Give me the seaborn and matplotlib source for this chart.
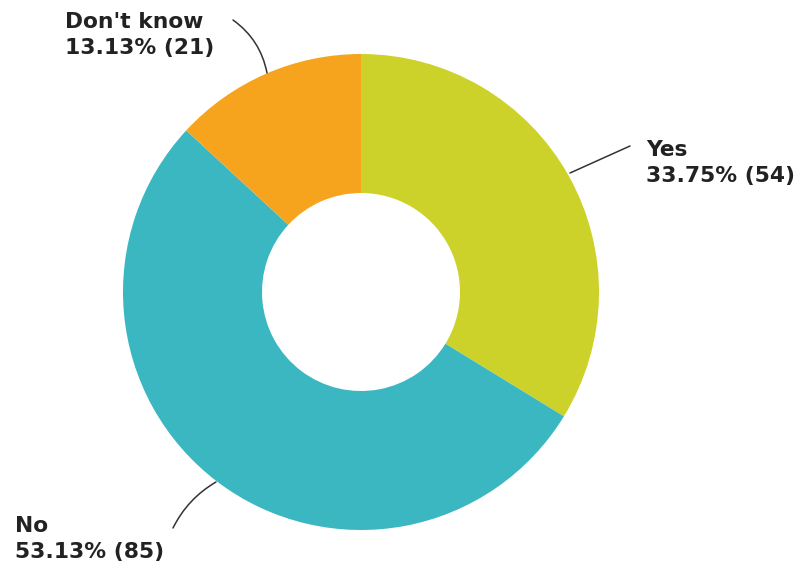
import matplotlib
matplotlib.use("Agg")
import matplotlib.pyplot as plt
import seaborn as sns

categories = ["Yes", "No", "Don't know"]
counts = [54, 85, 21]
percents = [33.75, 53.13, 13.13]
colors = ["#cdd22a", "#3bb7c2", "#f6a41d"]

sns.set_style("white")
plt.rcParams['font.family'] = ['DejaVu Sans']

W, H = 795, 564
fig = plt.figure(figsize=(W / 100, H / 100), dpi=100)
ax = fig.add_axes([0, 0, 1, 1])

cx, cy = 361, H - 292
R, r = 238, 99
ax.pie(counts, colors=colors, startangle=90, counterclock=False,
       center=(cx, cy), radius=R,
       wedgeprops=dict(width=R - r, edgecolor="none", linewidth=0),
       frame=True)
ax.set_xlim(0, W)
ax.set_ylim(0, H)
ax.axis("off")
ax.set_aspect("equal")

labels = [f"{c}\n{p:.2f}% ({n})" for c, p, n in zip(categories, percents, counts)]

# leader lines (start on wedge edge, end near label)
lines = [((570, 173), (630, 146), 0.0),
         ((216, 482), (173, 528), -0.15),
         ((267, 73), (233, 20), -0.2)]
text_pos = [(646, 140), (15, 516), (65, 12)]

for lab, (p0, p1, rad), (tx, ty) in zip(labels, lines, text_pos):
    ax.annotate("", xy=(p0[0], H - p0[1]), xytext=(p1[0], H - p1[1]),
                arrowprops=dict(arrowstyle="-", color="#333333", lw=1.1,
                                connectionstyle=f"arc3,rad={rad}",
                                shrinkA=0, shrinkB=0))
    ax.text(tx, H - ty, lab, ha="left", va="top", fontsize=15.7,
            fontweight="bold", color="#222222", linespacing=1.36)

fig.savefig("out.png", dpi=100, facecolor="white")
